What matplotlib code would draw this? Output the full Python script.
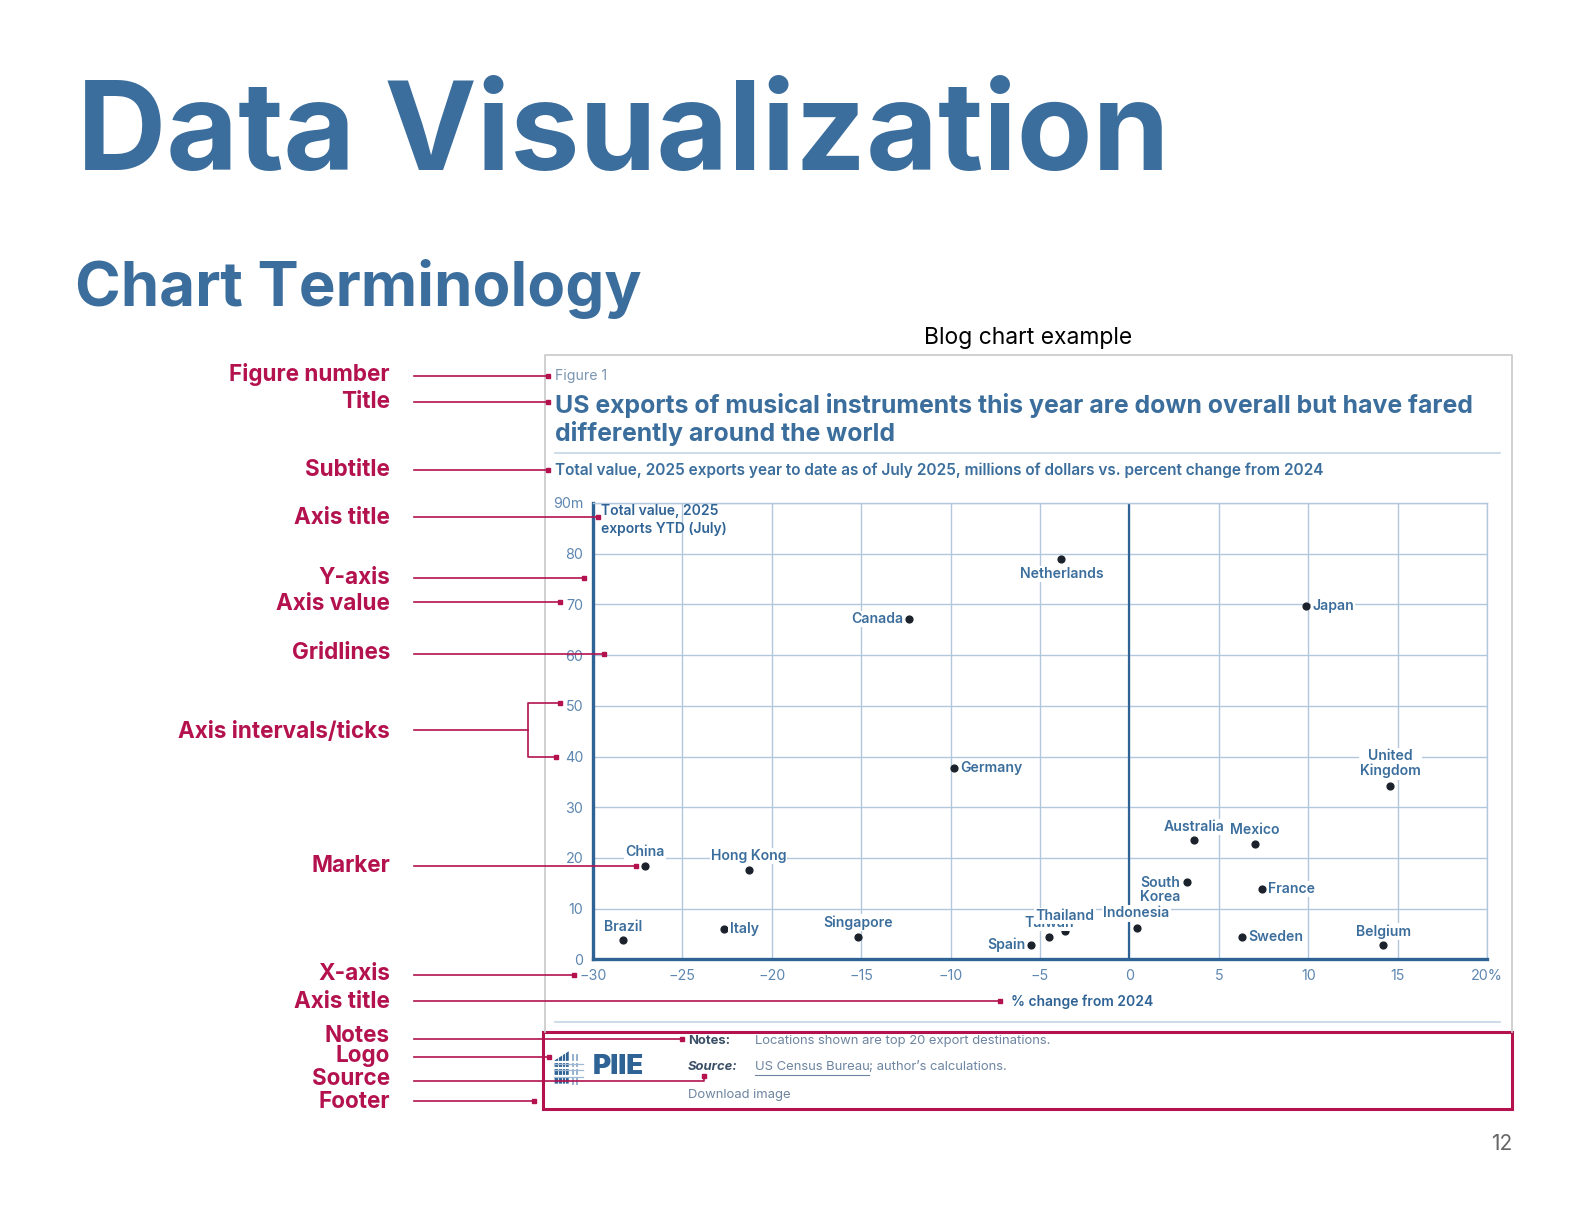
import numpy as np
import matplotlib.pyplot as plt
from matplotlib.patches import Rectangle, Polygon

# page frame used for placing the slide elements (scaled to the 1584x1224 output)
PW, PH = 1568, 1212

countries = ['Brazil', 'China', 'Hong Kong', 'Italy', 'Singapore', 'Canada', 'Germany',
             'Spain', 'Taiwan', 'Thailand', 'Netherlands', 'Indonesia', 'South\nKorea',
             'Australia', 'Sweden', 'Mexico', 'France', 'Japan', 'Belgium', 'United\nKingdom']
pct_change = [-28.3, -27.1, -21.3, -22.7, -15.2, -12.3, -9.8,
              -5.5, -4.5, -3.6, -3.8, 0.4, 3.2,
              3.6, 6.3, 7.0, 7.4, 9.9, 14.2, 14.6]
total_value = [3.8, 18.4, 17.7, 5.9, 4.5, 67.1, 37.8,
               2.8, 4.5, 5.6, 78.9, 6.1, 15.3,
               23.5, 4.4, 22.8, 13.9, 69.7, 2.9, 34.2]

x_ticks = [-30, -25, -20, -15, -10, -5, 0, 5, 10, 15, 20]
x_tick_labels = ['\u221230', '\u221225', '\u221220', '\u221215', '\u221210', '\u22125',
                 '0', '5', '10', '15', '20%']
y_ticks = [0, 10, 20, 30, 40, 50, 60, 70, 80, 90]
y_tick_labels = ['0', '10', '20', '30', '40', '50', '60', '70', '80', '90m']

term_names = ['Figure number', 'Title', 'Subtitle', 'Axis title', 'Y-axis', 'Axis value',
              'Gridlines', 'Axis intervals/ticks', 'Marker', 'X-axis', 'Axis title',
              'Notes', 'Logo', 'Source', 'Footer']

# label placement: (dx, dy in pixels, ha)
label_place = {
    'Brazil': (0, 13, 'center'), 'China': (0, 14, 'center'), 'Hong Kong': (0, 14, 'center'),
    'Italy': (6, 0, 'left'), 'Singapore': (0, 14, 'center'), 'Canada': (-6, 0, 'right'),
    'Germany': (6, 0, 'left'), 'Spain': (-6, 0, 'right'), 'Taiwan': (0, 14, 'center'),
    'Thailand': (0, 15, 'center'), 'Netherlands': (0, -15, 'center'),
    'Indonesia': (0, 15, 'center'), 'South\nKorea': (-6, -8, 'right'),
    'Australia': (0, 13, 'center'), 'Sweden': (6, 0, 'left'), 'Mexico': (0, 14, 'center'),
    'France': (6, 0, 'left'), 'Japan': (6, 0, 'left'), 'Belgium': (0, 13, 'center'),
    'United\nKingdom': (0, 22, 'center'),
}

# y of label text, then leader line path (page frame coords)
term_lines = [
    (371, [(410, 372), (542, 372)]),
    (398, [(410, 398), (542, 398)]),
    (465, [(410, 465), (542, 465)]),
    (513, [(410, 512), (592, 512)]),
    (572, [(410, 572), (578, 572)]),
    (598, [(410, 596), (554, 596)]),
    (647, [(410, 648), (598, 648)]),
    (725, None),
    (858, [(410, 858), (630, 858)]),
    (964, [(410, 965), (568, 965)]),
    (992, [(410, 991), (990, 991)]),
    (1026, [(410, 1029), (675, 1029)]),
    (1046, [(410, 1047), (543, 1047)]),
    (1068, [(410, 1070), (697, 1070), (697, 1065)]),
    (1091, [(410, 1090), (529, 1090)]),
]

blue = '#3b6e9c'
dark_blue = '#2f6395'
crimson = '#b3124f'
grid_c = '#b3c7dc'
tick_c = '#5d86b0'

plt.rcParams['font.family'] = ['Inter', 'DejaVu Sans']

fig = plt.figure(figsize=(15.84, 12.24), dpi=100)
fig.patch.set_facecolor('white')

# ---- the chart itself
ax = fig.add_axes([587 / PW, 1 - 950 / PH, (1472 - 587) / PW, (950 - 498) / PH])
ax.set_xlim(-30, 20)
ax.set_ylim(0, 90)
ax.set_xticks(x_ticks)
ax.set_xticklabels(x_tick_labels)
ax.set_yticks(y_ticks)
ax.set_yticklabels(y_tick_labels)
ax.tick_params(length=0, colors=tick_c, labelsize=10.3, pad=7)
ax.grid(True, color=grid_c, lw=1)
ax.set_axisbelow(True)
for s in ['top', 'right']:
    ax.spines[s].set_color(grid_c)
    ax.spines[s].set_linewidth(1)
for s in ['left', 'bottom']:
    ax.spines[s].set_color(dark_blue)
    ax.spines[s].set_linewidth(2.4)
ax.axvline(0, color=dark_blue, lw=1.6, zorder=1.5)

ax.scatter(pct_change, total_value, s=24, color='#1b222c', zorder=3)

for name, x, y in zip(countries, pct_change, total_value):
    dx, dy, ha = label_place[name]
    ax.annotate(name, (x, y), xytext=(dx, dy), textcoords='offset pixels',
                ha=ha, va='center', multialignment='center', fontsize=10.1,
                fontweight='semibold', color=blue, linespacing=1.05, zorder=4,
                bbox=dict(boxstyle='square,pad=0.08', fc='white', ec='none'))

ax.text(0.009, 0.997, 'Total value, 2025\nexports YTD (July)', transform=ax.transAxes,
        ha='left', va='top', fontsize=10, fontweight='semibold', color=dark_blue,
        linespacing=1.3)

# ---- page overlay in pixel coordinates
ov = fig.add_axes([0, 0, 1, 1], zorder=10)
ov.set_xlim(0, PW)
ov.set_ylim(PH, 0)
ov.axis('off')
ov.patch.set_alpha(0)

ov.text(76, 168, 'Data Visualization', fontsize=89, fontweight='bold', color=blue,
        va='baseline', ha='left')
ov.text(74, 303, 'Chart Terminology', fontsize=44.5, fontweight='bold', color=blue,
        va='baseline', ha='left')
ov.text(1018, 335, 'Blog chart example', fontsize=16.5, color='black', ha='center',
        va='center')

# panel + footer
ov.plot([539, 539, 1497, 1497], [1022, 352, 352, 1022], color='#c8c8c8', lw=1.2)
ov.add_patch(Rectangle((538, 1022), 959, 76, fill=False, ec=crimson, lw=2.2))
ov.plot([549, 1485], [449, 449], color='#c3d4e6', lw=1.2)
ov.plot([549, 1485], [1012, 1012], color='#c3d4e6', lw=1.2)

ov.text(549, 372, 'Figure 1', fontsize=10.2, color='#7a95b2', va='center', ha='left')
ov.text(549, 402, 'US exports of musical instruments this year are down overall but have fared',
        fontsize=17.9, fontweight='bold', color=blue, va='center', ha='left')
ov.text(549, 429, 'differently around the world', fontsize=17.9, fontweight='bold',
        color=blue, va='center', ha='left')
ov.text(549, 466, 'Total value, 2025 exports year to date as of July 2025, millions of dollars '
        'vs. percent change from 2024', fontsize=11.1, fontweight='semibold', color=blue,
        va='center', ha='left')
ov.text(1001, 992, '% change from 2024', fontsize=10, fontweight='semibold', color=dark_blue,
        va='center', ha='left')

# footer text
foot_c = '#6d85a0'
fs_foot = 9.4
ov.text(681, 1031, 'Notes:', fontsize=fs_foot, fontweight='bold', color='#3a4f66', va='center')
ov.text(747, 1031, 'Locations shown are top 20 export destinations.', fontsize=fs_foot,
        color=foot_c, va='center')
ov.text(681, 1057, 'Source:', fontsize=fs_foot, fontweight='bold', style='italic',
        color='#3a4f66', va='center')
src = ov.text(747, 1057, 'US Census Bureau', fontsize=fs_foot, color=foot_c, va='center')
fig.canvas.draw()
bb = src.get_window_extent(fig.canvas.get_renderer())
x_end = ov.transData.inverted().transform((bb.x1, bb.y0))[0]
ov.plot([747, x_end], [1064, 1064], color=foot_c, lw=0.8)
ov.text(x_end, 1057, '; author\u2019s calculations.', fontsize=fs_foot, color=foot_c,
        va='center')
ov.text(681, 1084, 'Download image', fontsize=fs_foot, color=foot_c, va='center')

# PIIE logo: slanted block of bars, thin uprights and cross rails
ov.add_patch(Polygon([(549, 1050), (563, 1041), (563, 1073), (549, 1073)],
                     closed=True, color=dark_blue, lw=0))
for bx in [552.5, 556, 559.5]:
    ov.plot([bx, bx], [1040, 1074], color='white', lw=0.6)
for bx in [567, 571]:
    ov.plot([bx, bx], [1045, 1073], color='#8aa9c9', lw=1.3)
for yy in [1052, 1058, 1065]:
    ov.plot([548, 577], [yy, yy], color='white', lw=1.6)
    ov.plot([548, 577], [yy + 1.3, yy + 1.3], color='#9fb8d3', lw=0.9)
ov.text(587, 1057, 'PIIE', fontsize=20, fontweight='black', color=dark_blue, va='center',
        ha='left')

ov.text(1497, 1133, '12', fontsize=15, color='#666666', ha='right', va='center')

# terminology labels and leader lines
for name, (ty, path) in zip(term_names, term_lines):
    ov.text(386, ty, name, fontsize=16.2, fontweight='bold', color=crimson, ha='right',
            va='center')
    if path is not None:
        xs, ys = zip(*path)
        ov.plot(xs, ys, color=crimson, lw=1.2)
        ov.plot(xs[-1], ys[-1], 's', color=crimson, ms=3.5)

# bracket for the axis ticks
ov.plot([410, 523], [723, 723], color=crimson, lw=1.2)
ov.plot([554, 523, 523, 550], [696, 696, 750, 750], color=crimson, lw=1.2)
ov.plot([554, 550], [696, 750], 's', color=crimson, ms=3.5)

fig.savefig('out.png', dpi=100)
